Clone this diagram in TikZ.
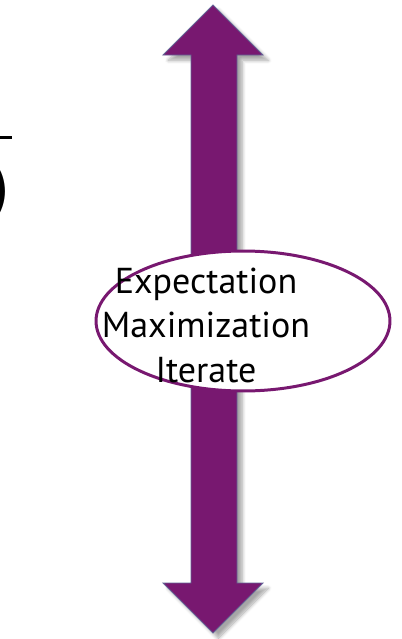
\documentclass[tikz,border=0pt]{standalone}
\usepackage{fontspec}
\setmainfont[Ligatures=NoCommon]{PT Sans}
\usepackage{xcolor}
\usetikzlibrary{shapes.geometric}
\usetikzlibrary{shadows.blur}
\usetikzlibrary{positioning}
\definecolor{emPurple}{RGB}{120,24,112}
\definecolor{emEdge}{RGB}{100,100,150}
\tikzstyle{emarrow} = [fill=emPurple,draw=emEdge,line width=0.5pt,
    blur shadow={shadow xshift=3pt,shadow yshift=-3pt,shadow blur steps=8,shadow opacity=35}]
\tikzstyle{loopbox} = [ellipse,draw=emPurple,line width=1.7pt,fill=white,
    minimum width=5.88cm,minimum height=2.8cm,inner sep=0pt]

\begin{document}
\begin{tikzpicture}[x=0.02cm,y=-0.02cm]

    \useasboundingbox (0,0) rectangle (402,639); % Fixes the page size...

    % corner points of the double arrow
    \coordinate (Top)   at (213,5);
    \coordinate (Bot)   at (213,633);
    \coordinate (TL)    at (163,55);
    \coordinate (TR)    at (263,55);
    \coordinate (BL)    at (163,583);
    \coordinate (BR)    at (263,583);

    \draw[emarrow] (Top) -- (TR) -- (237,55) -- (237,583) -- (BR)
        -- (Bot) -- (BL) -- (191,583) -- (191,55) -- (TL) -- cycle;

    \node[loopbox] (em) at (243,321) {};
    % base of a multi-line node sits on its last line
    \node[font=\fontsize{20.5}{25.3}\selectfont,align=center,anchor=base]
        (emtext) at (206,382) {Expectation\\Maximization\\Iterate};

    % bits of a formula cut off at the left edge
    \draw[line width=1.2pt] (-4,137.5) -- (12,137.5);
    \node[font=\fontsize{36}{36}\selectfont,anchor=east,inner sep=0pt]
        (paren) at (10,192) {)};

\end{tikzpicture}
\end{document}
